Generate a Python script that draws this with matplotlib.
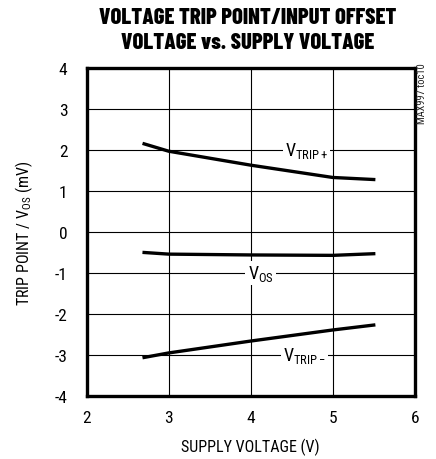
import matplotlib
matplotlib.use("Agg")
import matplotlib.pyplot as plt
from matplotlib import font_manager as fm

available = {f.name for f in fm.fontManager.ttflist}

def pick(cands, default='Liberation Sans'):
    for c in cands:
        if c in available:
            return c
    return default

narrow = pick(['Roboto Condensed', 'Archivo Narrow', 'PT Sans Narrow', 'Liberation Sans Narrow'])
heavy = pick(['Barlow Condensed', 'Oswald', 'Roboto Condensed', 'Archivo Narrow'], 'DejaVu Sans')

plt.rcParams['font.family'] = [narrow, 'DejaVu Sans']
plt.rcParams['mathtext.fontset'] = 'custom'
plt.rcParams['mathtext.rm'] = narrow
plt.rcParams['mathtext.it'] = narrow

supply_v = [2.7, 3.0, 4.0, 5.0, 5.5]
vtrip_plus = [2.15, 1.97, 1.63, 1.33, 1.28]
vos = [-0.50, -0.54, -0.56, -0.57, -0.53]
vtrip_minus = [-3.06, -2.95, -2.66, -2.39, -2.27]

xticks = [2, 3, 4, 5, 6]
yticks = [-4, -3, -2, -1, 0, 1, 2, 3, 4]

fig = plt.figure(figsize=(4.36, 4.60), dpi=100)
ax = fig.add_axes([0.1989, 0.137, 0.7523, 0.713])

ax.plot(supply_v, vtrip_plus, color='black', lw=2.4, zorder=3)
ax.plot(supply_v, vos, color='black', lw=2.4, zorder=3)
ax.plot(supply_v, vtrip_minus, color='black', lw=2.4, zorder=3)

ax.set_xlim(2, 6)
ax.set_ylim(-4, 4)
ax.set_xticks(xticks)
ax.set_yticks(yticks)
ax.set_xticklabels([str(t) for t in xticks])
ax.set_yticklabels([str(t) for t in yticks])
ax.tick_params(length=0, labelsize=12.5, pad=10)
ax.tick_params(axis='y', pad=14)
ax.grid(True, color='black', lw=0.8)
ax.set_axisbelow(True)
for s in ax.spines.values():
    s.set_linewidth(2.4)

bb = dict(facecolor='white', edgecolor='none', pad=1.5)
ax.text(4.68, 2.0, r'V$_{\mathrm{TRIP+}}$', fontsize=13, ha='center', va='center', bbox=bb, zorder=2)
ax.text(4.12, -1.0, r'V$_{\mathrm{OS}}$', fontsize=13, ha='center', va='center', bbox=bb, zorder=2)
ax.text(4.66, -3.0, r'V$_{\mathrm{TRIP-}}$', fontsize=13, ha='center', va='center', bbox=bb, zorder=2)

ax.set_xlabel('SUPPLY VOLTAGE (V)', fontsize=11.5, labelpad=9)
ax.set_ylabel(r'TRIP POINT / V$_{\mathrm{OS}}$ (mV)', fontsize=11.5, labelpad=14)

fig.text(0.567, 0.933, 'VOLTAGE TRIP POINT/INPUT OFFSET\nVOLTAGE vs. SUPPLY VOLTAGE',
         ha='center', va='center', fontsize=16.3, fontweight=800, linespacing=1.32,
         family=[heavy, 'DejaVu Sans'])
fig.text(0.968, 0.863, 'MAX997 toc10', rotation=90, fontsize=7.5, ha='center', va='top',
         color='#222222')

fig.savefig('out.png', dpi=100)
